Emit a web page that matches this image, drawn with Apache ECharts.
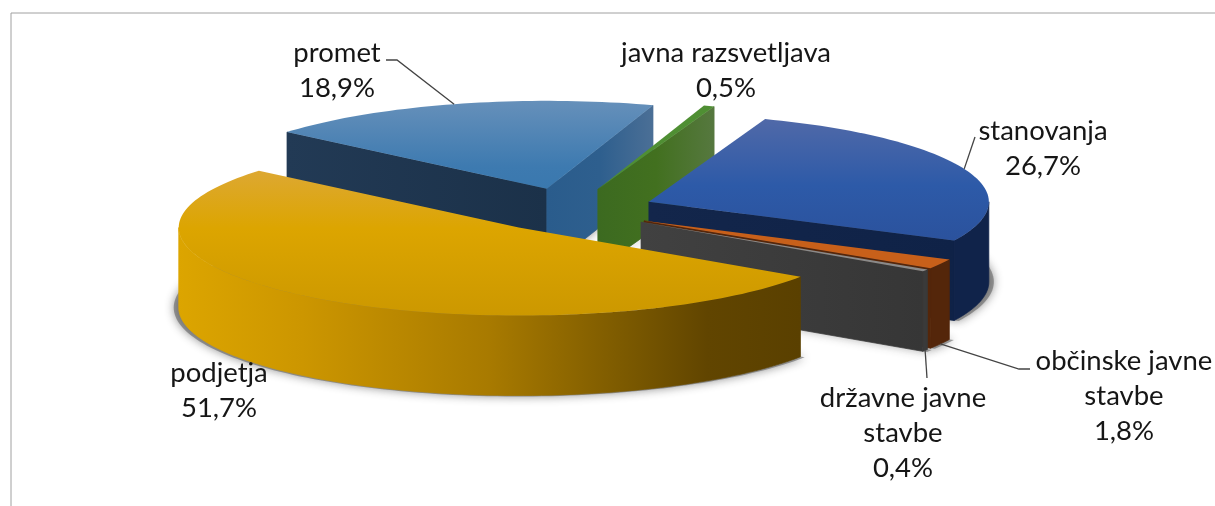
<!DOCTYPE html>
<html><head><meta charset="utf-8">
<style>html,body{margin:0;padding:0;background:#fff;overflow:hidden}#c{width:1215px;height:506px}</style>
<script src="https://cdn.jsdelivr.net/npm/echarts@6/dist/echarts.min.js"></script>
</head><body><div id="c"></div>
<script>
const categories = ['stanovanja','občinske javne\nstavbe','državne javne\nstavbe','podjetja','promet','javna razsvetljava'];
const values = [26.7, 1.8, 0.4, 51.7, 18.9, 0.5];
const firstAngle = 20;
const explode = 0.25, depth = 80;
const CX = 570, CY = 210, RX = 340, RY = 88;
const drawOrder = [4,5,0,1,2,3];
const grad = (vertical, stops) => ({type:'linear',x:0,y:0,x2:vertical?0:1,y2:vertical?1:0,
  colorStops:stops.map(s=>({offset:s[0],color:s[1]}))});
const looks = [
 {top:grad(1,[[0,'#5069A8'],[.55,'#2D5AA8'],[1,'#2B529D']]), outer:'#10234A', end:grad(0,[[0,'#13264B'],[1,'#0F2247']]), start:'#10234A'},
 {top:'#C8601A', outer:'#54260A', end:'#54260A', start:'#54260A'},
 {top:'#8A8A8A', outer:'#3A3A3A', end:grad(0,[[0,'#414141'],[1,'#363636']]), start:'#3A3A3A'},
 {top:grad(1,[[0,'#DDA832'],[.4,'#DCA500'],[1,'#CC9800']]),
  outer:grad(0,[[0,'#DCA500'],[.2,'#CC9600'],[.5,'#A87A00'],[.7,'#7F5C00'],[.85,'#614500'],[1,'#5A4000']]), end:'#5A4000', start:'#5A4000'},
 {top:grad(1,[[0,'#6690BA'],[.75,'#3D7AB0'],[1,'#3A78AE']]), outer:'#1E3550', end:grad(0,[[0,'#2A5C8C'],[.5,'#2E5F8E'],[1,'#4B6F96']]), start:grad(0,[[0,'#223A55'],[1,'#1B3149']])},
 {top:'#4F8F33', outer:'#3C6A20', end:grad(0,[[0,'#3C6A20'],[.5,'#42701F'],[1,'#56783F']]), start:'#3C6A20'}
];
const labelLayout = [
 {x:1043,y:131,elbow:[[975,137]],rim:false},
 {x:1124,y:361,elbow:[[1030,369],[1019,369]],rim:true},
 {x:903,y:398,elbow:[[927,378]],rim:true},
 {x:219,y:373,elbow:null},
 {x:337,y:53,elbow:[[386,60],[397,60]],rim:false},
 {x:726,y:53,elbow:null}
];
const total = values.reduce((a,b)=>a+b,0);
const rad = d => d*Math.PI/180;
const spans = []; { let a = firstAngle; values.forEach(v=>{ const s=v/total*360; spans.push([a,a+s]); a+=s; }); }
function apex(i){ const m=rad((spans[i][0]+spans[i][1])/2);
  return [CX+explode*RX*Math.sin(m), CY-explode*RY*Math.cos(m)]; }
function rim(i,deg,down,grow){ const a=apex(i), t=rad(deg), g=grow||0;
  return [a[0]+(RX+g)*Math.sin(t), a[1]-(RY+g*.2)*Math.cos(t)+(down||0)]; }
function arc(i,a0,a1,down,grow){ const n=Math.max(2,Math.ceil(Math.abs(a1-a0)/1.5)), out=[];
  for(let k=0;k<=n;k++) out.push(rim(i,a0+(a1-a0)*k/n,down,grow)); return out; }
function renderItem(params,api){
  const i=api.value(0), [a0,a1]=spans[i], L=looks[i], A=apex(i), order=drawOrder.indexOf(i)+1, base=order*10+10, kids=[];
  const poly=(points,fill,z,extra)=>kids.push(Object.assign({type:'polygon',shape:{points},style:Object.assign({fill},extra||{}),z2:z}));
  const seam=c=>({stroke:c,lineWidth:.7});
  poly([[A[0],A[1]+depth]].concat(arc(i,a0,a1,depth,5)),'rgba(90,90,90,.55)',order,{shadowBlur:10,shadowColor:'rgba(40,40,40,.9)'});
  const s0=Math.sin(rad(a0)), s1=Math.sin(rad(a1));
  if(s0<0){ const e=rim(i,a0); poly([A,e,[e[0],e[1]+depth],[A[0],A[1]+depth]],L.start,base+1,seam(L.start)); }
  if(s1>0){ const e=rim(i,a1); poly([A,e,[e[0],e[1]+depth],[A[0],A[1]+depth]],L.end,base+2,seam(L.end)); }
  const lo=Math.max(a0,90), hi=Math.min(a1,270);
  if(hi>lo){ poly(arc(i,lo,hi,0).concat(arc(i,hi,lo,depth)),L.outer,base+3,seam(L.outer)); }
  poly([A].concat(arc(i,a0,a1,0)),L.top,base+4);
  return {type:'group',children:kids};
}
function renderLabel(params,api){
  const i=api.value(0), P=labelLayout[i], kids=[], mid=(spans[i][0]+spans[i][1])/2;
  kids.push({type:'text',z2:200,style:{x:P.x,y:P.y-17.5,text:categories[i]+'\n'+values[i].toFixed(1).replace('.',',')+'%',
    align:'center',verticalAlign:'top',lineHeight:35,fontFamily:'Lato',fontSize:27.5,fill:'#161616'}});
  if(P.elbow){ kids.push({type:'polyline',z2:150,shape:{points:P.elbow.concat([rim(i,mid,P.rim?depth:0)])},
    style:{fill:'none',stroke:'#444',lineWidth:1.3}}); }
  return {type:'group',children:kids};
}
const rows = values.map((v,i)=>[i,v]);
const chart = echarts.init(document.getElementById('c'),null,{renderer:'canvas'});
chart.setOption({
  animation:false, backgroundColor:'#fff',
  graphic:[{type:'polyline',shape:{points:[[11,506],[11,13],[1215,13]]},style:{fill:'none',stroke:'#A0A0A0',lineWidth:1}}],
  series:[
   {type:'custom',coordinateSystem:'none',silent:true,data:rows,renderItem},
   {type:'custom',coordinateSystem:'none',silent:true,data:rows,renderItem:renderLabel,z:5}
  ]
});
</script></body></html>
